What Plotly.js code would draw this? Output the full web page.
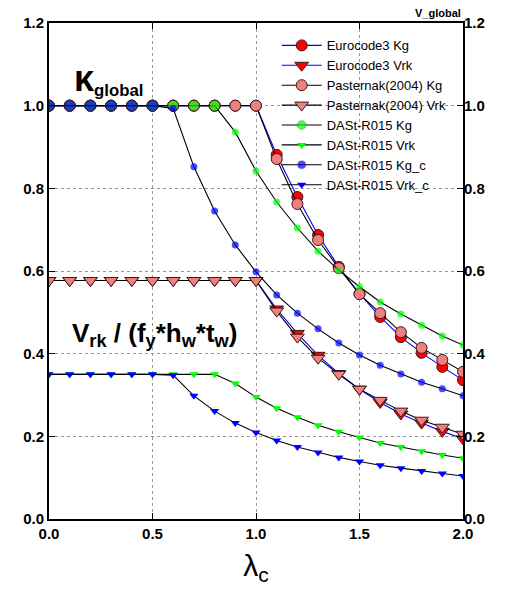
<!DOCTYPE html>
<html><head><meta charset="utf-8">
<script src="https://cdn.plot.ly/plotly-3.0.1.min.js"></script>
<style>body{margin:0;background:#fff}#c{width:506px;height:596px}</style>
</head><body><div id="c"></div>
<script>
const lam = [0,0.1,0.2,0.3,0.4,0.5,0.6,0.7,0.8,0.9,1.0,1.1,1.2,1.3,1.4,1.5,1.6,1.7,1.8,1.9,2.0];
const ec3Kg   = [1,1,1,1,1,1,1,1,1,1,1,0.881,0.779,0.687,0.610,0.545,0.489,0.440,0.402,0.368,0.336];
const ec3Vrk  = [0.577,0.577,0.577,0.577,0.577,0.577,0.577,0.577,0.577,0.577,0.577,0.508,0.449,0.396,0.352,0.314,0.282,0.254,0.232,0.212,0.194];
const pasKg   = [1,1,1,1,1,1,1,1,1,1,1,0.871,0.762,0.675,0.607,0.544,0.498,0.452,0.414,0.385,0.356];
const pasVrk  = [0.577,0.577,0.577,0.577,0.577,0.577,0.577,0.577,0.577,0.577,0.577,0.503,0.440,0.389,0.350,0.314,0.287,0.261,0.239,0.222,0.205];
const dKg     = [1,1,1,1,1,1,1,1,1,0.936,0.842,0.767,0.704,0.648,0.602,0.562,0.525,0.496,0.469,0.443,0.421];
const dVrk    = [0.35,0.35,0.35,0.35,0.35,0.35,0.35,0.35,0.35,0.328,0.295,0.268,0.246,0.227,0.211,0.197,0.184,0.174,0.164,0.155,0.147];
const dKgc    = [1,1,1,1,1,1,0.993,0.852,0.745,0.663,0.598,0.542,0.498,0.460,0.426,0.397,0.372,0.351,0.331,0.315,0.298];
const dVrkc   = [0.35,0.35,0.35,0.35,0.35,0.35,0.348,0.298,0.261,0.232,0.209,0.190,0.174,0.161,0.149,0.139,0.130,0.123,0.116,0.110,0.104];
const names = ['Eurocode3 Kg','Eurocode3 Vrk','Pasternak(2004) Kg','Pasternak(2004) Vrk','DASt-R015 Kg','DASt-R015 Vrk','DASt-R015 Kg_c','DASt-R015 Vrk_c'];
const yTicks = [0,0.2,0.4,0.6,0.8,1.0,1.2];
const xTicks = [0,0.5,1.0,1.5,2.0];

const RED='#ff0000', PINK='#f08080', GREEN='#00ff00', BLUE='#0000ff', OUT='#3a1a1a';
function big(y,plat){return y.map(v=>Math.abs(v-plat)<1e-6?11:7);}
function outw(y,plat){return y.map(v=>Math.abs(v-plat)<1e-6?1:0);}
function tr(name,y,lineColor,mColor,sym,size,lw){
  return {x:lam,y:y,name:name,type:'scatter',mode:'lines+markers',
    line:{color:lineColor,width:1.1},
    marker:{color:mColor,symbol:sym,size:size,line:{color:OUT,width:lw}}};
}
const data = [
  tr(names[0],ec3Kg,BLUE,RED,'circle',11,1),
  tr(names[1],ec3Vrk,BLUE,RED,'triangle-down',12,1),
  tr(names[2],pasKg,'#000',PINK,'circle',11,1),
  tr(names[3],pasVrk,'#000',PINK,'triangle-down',12,1),
  tr(names[4],dKg,'#000',GREEN,'circle',big(dKg,1),outw(dKg,1)),
  tr(names[5],dVrk,'#000',GREEN,'triangle-down',8,0),
  tr(names[6],dKgc,'#000',BLUE,'circle',big(dKgc,1),outw(dKgc,1)),
  tr(names[7],dVrkc,'#000',BLUE,'triangle-down',8,0),
  {x:[0],y:[0],yaxis:'y2',showlegend:false,hoverinfo:'skip',mode:'markers',marker:{opacity:0}}
];
const tf = {family:'Arial, Liberation Sans',size:15,color:'#000',weight:'bold'};
const layout = {
  width:506,height:596,margin:{l:49,r:43,t:23,b:77},
  paper_bgcolor:'#fff',plot_bgcolor:'#fff',showlegend:true,
  xaxis:{range:[0,2],tickvals:xTicks,tickformat:'.1f',ticks:'inside',ticklen:6,tickcolor:'#000',
    showline:true,linecolor:'#000',linewidth:2,mirror:'ticks',showgrid:true,gridcolor:'#999',griddash:'dot',gridwidth:1,
    zeroline:false,tickfont:tf,
    title:{text:'λ<sub>c</sub>',font:{family:'Arial, Liberation Sans',size:30,color:'#000'},standoff:14}},
  yaxis:{range:[0,1.2],tickvals:yTicks,tickformat:'.1f',ticks:'inside',ticklen:6,tickcolor:'#000',
    showline:true,linecolor:'#000',linewidth:2,mirror:'ticks',showgrid:true,gridcolor:'#999',griddash:'dot',gridwidth:1,
    zeroline:false,tickfont:tf},
  yaxis2:{range:[0,1.2],tickvals:yTicks,tickformat:'.1f',overlaying:'y',side:'right',showgrid:false,zeroline:false,
    ticks:'',showline:false,tickfont:tf},
  legend:{x:0.55,y:0.985,xanchor:'left',yanchor:'top',bgcolor:'rgba(0,0,0,0)',
    font:{family:'Arial, Liberation Sans',size:13,color:'#000'},tracegroupgap:0,itemwidth:40},
  annotations:[
    {xref:'paper',yref:'paper',x:0.055,y:0.888,xanchor:'left',yanchor:'middle',showarrow:false,
     text:'<b><span style="font-size:36px">κ</span><sub>global</sub></b>',font:{family:'Arial, Liberation Sans',size:24,color:'#000'}},
    {xref:'paper',yref:'paper',x:0.05,y:0.372,xanchor:'left',yanchor:'middle',showarrow:false,
     text:'<b>V<sub>rk</sub> / (f<sub>y</sub>*h<sub>w</sub>*t<sub>w</sub>)</b>',font:{family:'Arial, Liberation Sans',size:26,color:'#000'}},
    {xref:'paper',yref:'paper',x:1.0,y:1.0,xanchor:'right',yanchor:'bottom',yshift:2,showarrow:false,
     text:'<b>V_global</b>',font:{family:'Arial, Liberation Sans',size:11,color:'#000'}}
  ]
};
Plotly.newPlot('c',data,layout,{displayModeBar:false,staticPlot:true});
</script></body></html>
